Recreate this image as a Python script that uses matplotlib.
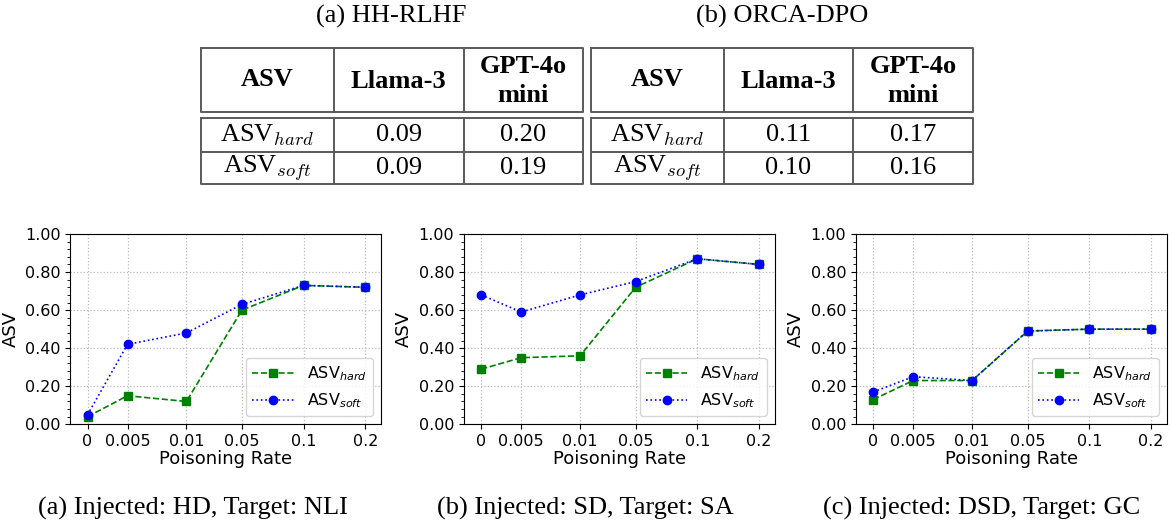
import matplotlib
matplotlib.use("Agg")
import matplotlib.pyplot as plt
from matplotlib.ticker import AutoMinorLocator, FormatStrFormatter
from matplotlib.font_manager import FontProperties

# ---- data ----
rates = ["0", "0.005", "0.01", "0.05", "0.1", "0.2"]

hd_nli_hard = [0.04, 0.15, 0.12, 0.60, 0.73, 0.72]
hd_nli_soft = [0.05, 0.42, 0.48, 0.63, 0.73, 0.72]
sd_sa_hard = [0.29, 0.35, 0.36, 0.72, 0.87, 0.84]
sd_sa_soft = [0.68, 0.59, 0.68, 0.75, 0.87, 0.84]
dsd_gc_hard = [0.13, 0.23, 0.23, 0.49, 0.50, 0.50]
dsd_gc_soft = [0.17, 0.25, 0.23, 0.49, 0.50, 0.50]

captions = ["(a) Injected: HD, Target: NLI",
            "(b) Injected: SD, Target: SA",
            "(c) Injected: DSD, Target: GC"]

table_titles = ["(a) HH-RLHF", "(b) ORCA-DPO"]
table_models = ["Llama-3", "GPT-4o\nmini"]
table_rows = [r"ASV$_{hard}$", r"ASV$_{soft}$"]
hh_llama = [0.09, 0.09]
hh_gpt = [0.20, 0.19]
orca_llama = [0.11, 0.10]
orca_gpt = [0.17, 0.16]

# uneven spacing of the categorical rate axis (as in the original)
rate_pos = [0, 0.72, 1.78, 2.78, 3.89, 5.0]

W, H = 1173, 527
fig = plt.figure(figsize=(W / 100, H / 100), dpi=100)

serif = "Liberation Serif"

# ---- tables, drawn on a pixel-space overlay ----
tab = fig.add_axes([0, 0, 1, 1])
tab.set_xlim(0, W)
tab.set_ylim(H, 0)
tab.axis("off")

line_kw = dict(color="#5a5a5a", lw=1.4, solid_capstyle="projecting")
y_hdr = (48.3, 111.7)
y_body = (118.3, 152.3, 184.3)
cols = [(200.7, 333.7, 463.5, 582.7), (590.7, 723.7, 853.0, 973.3)]
tables = [(hh_llama, hh_gpt), (orca_llama, orca_gpt)]

for t in range(2):
    xs = cols[t]
    # header box and body box
    for y0, y1 in [y_hdr, (y_body[0], y_body[2])]:
        tab.plot([xs[0], xs[3], xs[3], xs[0], xs[0]], [y0, y0, y1, y1, y0], **line_kw)
        for xc in xs[1:3]:
            tab.plot([xc, xc], [y0, y1], **line_kw)
    tab.plot([xs[0], xs[3]], [y_body[1], y_body[1]], **line_kw)

    tab.text((xs[0] + xs[3]) / 2, 16, table_titles[t], ha="center", va="center",
             fontsize=19, family=serif)
    ymid = (y_hdr[0] + y_hdr[1]) / 2
    tab.text((xs[0] + xs[1]) / 2, ymid, "ASV", ha="center", va="center",
             fontsize=19, family=serif, weight="bold")
    for j, name in enumerate(table_models):
        tab.text((xs[j + 1] + xs[j + 2]) / 2, ymid + 1, name, ha="center", va="center",
                 fontsize=19, family=serif, weight="bold", linespacing=1.3)
    for i, rname in enumerate(table_rows):
        yc = (y_body[i] + y_body[i + 1]) / 2
        fp = FontProperties(family=serif, size=19, math_fontfamily="cm")
        tab.text((xs[0] + xs[1]) / 2, yc, rname, ha="center", va="center",
                 fontproperties=fp)
        for j in range(2):
            tab.text((xs[j + 1] + xs[j + 2]) / 2, yc, f"{tables[t][j][i]:.2f}",
                     ha="center", va="center", fontsize=19, family=serif)

# ---- line plots ----
panels = [(hd_nli_hard, hd_nli_soft), (sd_sa_hard, sd_sa_soft), (dsd_gc_hard, dsd_gc_soft)]
lefts = [70.3, 464.0, 856.0]
ax_w = 310.5
ax_bottom, ax_top = 424.3, 234.0
cap_x = [193, 585, 982]

for k, (hard, soft) in enumerate(panels):
    ax = fig.add_axes([lefts[k] / W, 1 - ax_bottom / H, ax_w / W, (ax_bottom - ax_top) / H])
    ax.plot(rate_pos, hard, "--", color="green", marker="s", ms=6, lw=1.2,
            label=r"ASV$_{hard}$")
    ax.plot(rate_pos, soft, ":", color="blue", marker="o", ms=6, lw=1.2,
            label=r"ASV$_{soft}$")
    ax.set_xlim(-0.31, 5.28)
    ax.set_ylim(0, 1)
    ax.set_xticks(rate_pos)
    ax.set_xticklabels(rates)
    ax.set_yticks([0, 0.2, 0.4, 0.6, 0.8, 1.0])
    ax.yaxis.set_major_formatter(FormatStrFormatter("%.2f"))
    ax.yaxis.set_minor_locator(AutoMinorLocator(5))
    ax.tick_params(labelsize=11.5)
    ax.grid(True, linestyle=":", color="#bbbbbb", lw=0.9)
    ax.set_xlabel("Poisoning Rate", fontsize=13, labelpad=1)
    ax.set_ylabel("ASV", fontsize=13, labelpad=4)
    ax.legend(loc="lower right", fontsize=11.5, handlelength=2.6)
    fig.text(cap_x[k] / W, 1 - 508 / H, captions[k], ha="center", va="center",
             fontsize=19, family=serif)

fig.savefig("out.png", dpi=100)
